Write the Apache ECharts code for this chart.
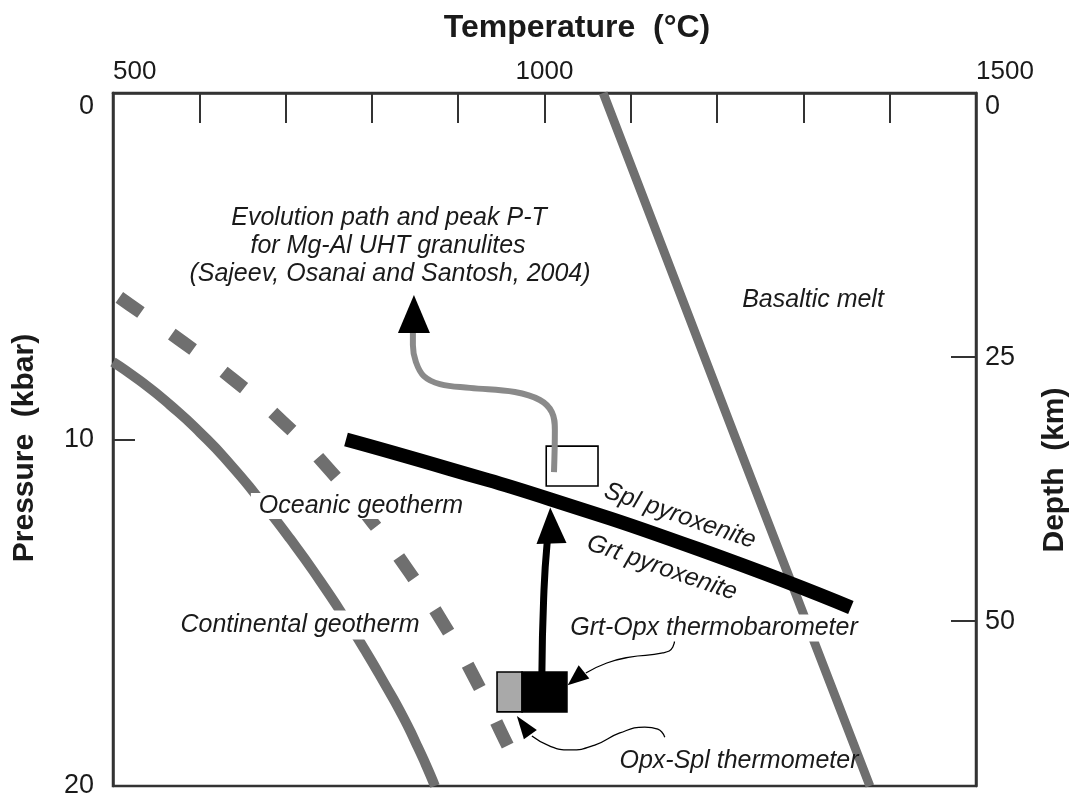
<!DOCTYPE html>
<html>
<head>
<meta charset="utf-8">
<script src="https://cdn.jsdelivr.net/npm/echarts@6/dist/echarts.min.js"></script>
<style>html,body{margin:0;padding:0;background:#fff}#c{width:1075px;height:801px}</style>
</head>
<body>
<div id="c"></div>
<script>
// ---- data (Temperature °C, Pressure kbar) ----
const tempLabels = [500, 1000, 1500];
const pressureTicks = [0, 10, 20];
const depthLabels = [0, 25, 50];
const depthTicks = [25, 50];

const basalticMelt = [[1068, 0], [1222, 10], [1377, 20]];
const continentalGeotherm = [[500, 7.76], [531, 8.30], [566, 9.00], [601, 9.80], [636, 10.72], [670, 11.74], [705, 12.86], [740, 14.08], [774.5, 15.38], [792, 16.08], [815, 17.06], [835, 17.95], [851, 18.76], [862.6, 19.39], [873, 20.0]];
const oceanicGeotherm = [[500, 5.77], [520, 6.12], [581, 7.19], [641, 8.30], [697, 9.50], [751, 10.88], [801, 12.40], [844, 13.85], [885, 15.40], [922, 17.03], [954, 18.67], [961, 19.02]];
const pyroxeniteBoundary = [[770, 10.0], [890, 10.85], [1006, 11.72], [1180, 13.18], [1355, 14.85]];
const evolutionPath = [[1011, 10.94], [1012, 9.73], [1008.5, 9.21], [994.6, 8.86], [965.7, 8.63], [913.5, 8.51], [878.8, 8.40], [860.2, 8.17], [851, 7.76], [847.5, 7.27], [847.5, 6.93]];
const upliftArrow = [[997, 16.72], [999, 14.6], [1003, 13.0], [1006, 12.7]];
const grtOpxPointer = [[1151, 15.70], [1148.7, 15.99], [1137.1, 16.16], [1098.9, 16.28], [1072.2, 16.45], [1047.9, 16.74]];
const opxSplPointer = [[1139.4, 18.59], [1131.3, 18.36], [1116.2, 18.30], [1087.3, 18.47], [1058.3, 18.82], [1029.4, 18.96], [1006.2, 18.85], [985.4, 18.56]];
// boxes: [Tmin, Pmin, Tmax, Pmax]
const peakBox = [1002, 10.19, 1062, 11.34];
const opxSplBox = [945, 16.71, 974, 17.86];
const grtOpxBox = [974, 16.71, 1026, 17.86];
// arrow heads (centre of head)
const arrowHeads = [[848.7, 6.38], [1007.4, 12.48], [1036.3, 16.90], [975.8, 18.25]];

// ---- styles ----
const headSizes = [[32, 38], [30, 36], [17, 21], [16, 23]];
const headRotations = [0, 2, 129, 36];
const boxFills = ['none', '#a9a9a9', '#000'];
const FF = '"Liberation Sans", Arial, Helvetica, sans-serif';
const AX = '#333';
const TXT = '#1a1a1a';

function lineSeries(data, color, width, smooth, extra) {
  return {
    type: 'line', data: data, xAxisIndex: 0, yAxisIndex: 0,
    showSymbol: false, symbol: 'none', silent: true, animation: false,
    smooth: smooth,
    lineStyle: Object.assign({ color: color, width: width, cap: 'butt', join: 'round' }, extra || {})
  };
}

const chart = echarts.init(document.getElementById('c'), null, { renderer: 'canvas' });

const plain = function (v) { return String(v); };

const option = {
  backgroundColor: '#fff',
  animation: false,
  grid: { left: 113, right: 99, top: 93, bottom: 15, show: true, borderColor: AX, borderWidth: 2.5, backgroundColor: 'transparent' },
  xAxis: [{
    type: 'value', position: 'top', min: 500, max: 1500, interval: 100,
    axisLine: { show: true, lineStyle: { color: AX, width: 2.5 } },
    axisTick: { show: true, inside: true, length: 30, lineStyle: { color: AX, width: 2 } },
    axisLabel: {
      customValues: tempLabels, alignMinLabel: 'left', alignMaxLabel: 'left', formatter: plain,
      fontSize: 26, fontFamily: FF, color: TXT, margin: 8
    },
    splitLine: { show: false }
  }],
  yAxis: [{
    type: 'value', position: 'left', inverse: true, min: 0, max: 20, interval: 10,
    axisLine: { show: true, lineStyle: { color: AX, width: 2.5 } },
    axisTick: { show: true, inside: true, length: 22, lineStyle: { color: AX, width: 2 } },
    axisLabel: {
      customValues: pressureTicks, verticalAlignMinLabel: 'top', formatter: plain,
      fontSize: 27, fontFamily: FF, color: TXT, margin: 19
    },
    splitLine: { show: false }
  }, {
    type: 'value', position: 'right', inverse: true, min: 0, max: 65.6,
    axisLine: { show: true, lineStyle: { color: AX, width: 2.5 } },
    axisTick: { show: true, inside: true, length: 25, customValues: depthTicks, lineStyle: { color: AX, width: 2 } },
    axisLabel: {
      customValues: depthLabels, verticalAlignMinLabel: 'top', formatter: plain,
      fontSize: 27, fontFamily: FF, color: TXT, margin: 9
    },
    splitLine: { show: false }
  }],
  series: [
    lineSeries(basalticMelt, '#6f6f6f', 9, false),
    lineSeries(continentalGeotherm, '#6f6f6f', 10, 0.6),
    lineSeries(oceanicGeotherm, '#6f6f6f', 13, 0.6, { type: [26, 38], dashOffset: 56 }),
    lineSeries(pyroxeniteBoundary, '#000', 14, 0.6),
    lineSeries(evolutionPath, '#8a8a8a', 6, 0.4),
    lineSeries(upliftArrow, '#000', 7, 0.5),
    lineSeries(grtOpxPointer, '#000', 1.3, 0.5),
    lineSeries(opxSplPointer, '#000', 1.3, 0.5),
    {
      type: 'custom', coordinateSystem: 'cartesian2d', xAxisIndex: 0, yAxisIndex: 0,
      silent: true, animation: false,
      data: [peakBox, opxSplBox, grtOpxBox],
      encode: { x: [0, 2], y: [1, 3] },
      renderItem: function (params, api) {
        const a = api.coord([api.value(0), api.value(1)]);
        const b = api.coord([api.value(2), api.value(3)]);
        return {
          type: 'rect',
          shape: { x: Math.min(a[0], b[0]), y: Math.min(a[1], b[1]), width: Math.abs(b[0] - a[0]), height: Math.abs(b[1] - a[1]) },
          style: { fill: boxFills[params.dataIndex], stroke: '#000', lineWidth: 1.6 }
        };
      }
    },
    {
      type: 'scatter', xAxisIndex: 0, yAxisIndex: 0, silent: true, animation: false,
      symbol: 'triangle',
      itemStyle: { color: '#000', opacity: 1 },
      data: arrowHeads.map(function (p, i) {
        return { value: p, symbolSize: headSizes[i], symbolRotate: headRotations[i] };
      })
    }
  ],
  graphic: [
    { type: 'text', x: 577, y: 28, z: 100, style: { text: 'Temperature  (°C)', font: 'bold 32px ' + FF, fill: TXT, textAlign: 'center', textVerticalAlign: 'middle', align: 'center', verticalAlign: 'middle' } },
    { type: 'text', x: 25, y: 448, rotation: Math.PI / 2, z: 100, style: { text: 'Pressure  (kbar)', font: 'bold 30px ' + FF, fill: TXT, textAlign: 'center', textVerticalAlign: 'middle', align: 'center', verticalAlign: 'middle' } },
    { type: 'text', x: 1055, y: 470, rotation: Math.PI / 2, z: 100, style: { text: 'Depth  (km)', font: 'bold 30px ' + FF, fill: TXT, textAlign: 'center', textVerticalAlign: 'middle', align: 'center', verticalAlign: 'middle' } },

    { type: 'text', x: 389, y: 218, z: 100, style: { text: 'Evolution path and peak P-T', font: 'italic 25px ' + FF, fill: TXT, textAlign: 'center', textVerticalAlign: 'middle', align: 'center', verticalAlign: 'middle' } },
    { type: 'text', x: 388, y: 246, z: 100, style: { text: 'for Mg-Al UHT granulites', font: 'italic 25px ' + FF, fill: TXT, textAlign: 'center', textVerticalAlign: 'middle', align: 'center', verticalAlign: 'middle' } },
    { type: 'text', x: 390, y: 274, z: 100, style: { text: '(Sajeev, Osanai and Santosh, 2004)', font: 'italic 25px ' + FF, fill: TXT, textAlign: 'center', textVerticalAlign: 'middle', align: 'center', verticalAlign: 'middle' } },
    { type: 'text', x: 813, y: 300, z: 100, style: { text: 'Basaltic melt', font: 'italic 25px ' + FF, fill: TXT, textAlign: 'center', textVerticalAlign: 'middle', align: 'center', verticalAlign: 'middle' } },
    { type: 'text', x: 358, y: 506, z: 100, style: { text: 'Oceanic geotherm', font: 'italic 25px ' + FF, fill: TXT, backgroundColor: '#fff', padding: [1, 2, 0, 8], textAlign: 'center', textVerticalAlign: 'middle', align: 'center', verticalAlign: 'middle' } },
    { type: 'text', x: 300, y: 625, z: 100, style: { text: 'Continental geotherm', font: 'italic 25px ' + FF, fill: TXT, backgroundColor: '#fff', padding: [2, 2, 2, 2], textAlign: 'center', textVerticalAlign: 'middle', align: 'center', verticalAlign: 'middle' } },
    { type: 'text', x: 680, y: 516, rotation: -19 * Math.PI / 180, z: 100, style: { text: 'Spl pyroxenite', font: 'italic 25px ' + FF, fill: TXT, textAlign: 'center', textVerticalAlign: 'middle', align: 'center', verticalAlign: 'middle' } },
    { type: 'text', x: 662, y: 568, rotation: -19 * Math.PI / 180, z: 100, style: { text: 'Grt pyroxenite', font: 'italic 25px ' + FF, fill: TXT, textAlign: 'center', textVerticalAlign: 'middle', align: 'center', verticalAlign: 'middle' } },
    { type: 'text', x: 714, y: 628, z: 100, style: { text: 'Grt-Opx thermobarometer', font: 'italic 25px ' + FF, fill: TXT, backgroundColor: '#fff', padding: [2, 2, 0, 2], textAlign: 'center', textVerticalAlign: 'middle', align: 'center', verticalAlign: 'middle' } },
    { type: 'text', x: 739, y: 761, z: 100, style: { text: 'Opx-Spl thermometer', font: 'italic 25px ' + FF, fill: TXT, textAlign: 'center', textVerticalAlign: 'middle', align: 'center', verticalAlign: 'middle' } }
  ]
};
chart.setOption(option);
</script>
</body>
</html>
